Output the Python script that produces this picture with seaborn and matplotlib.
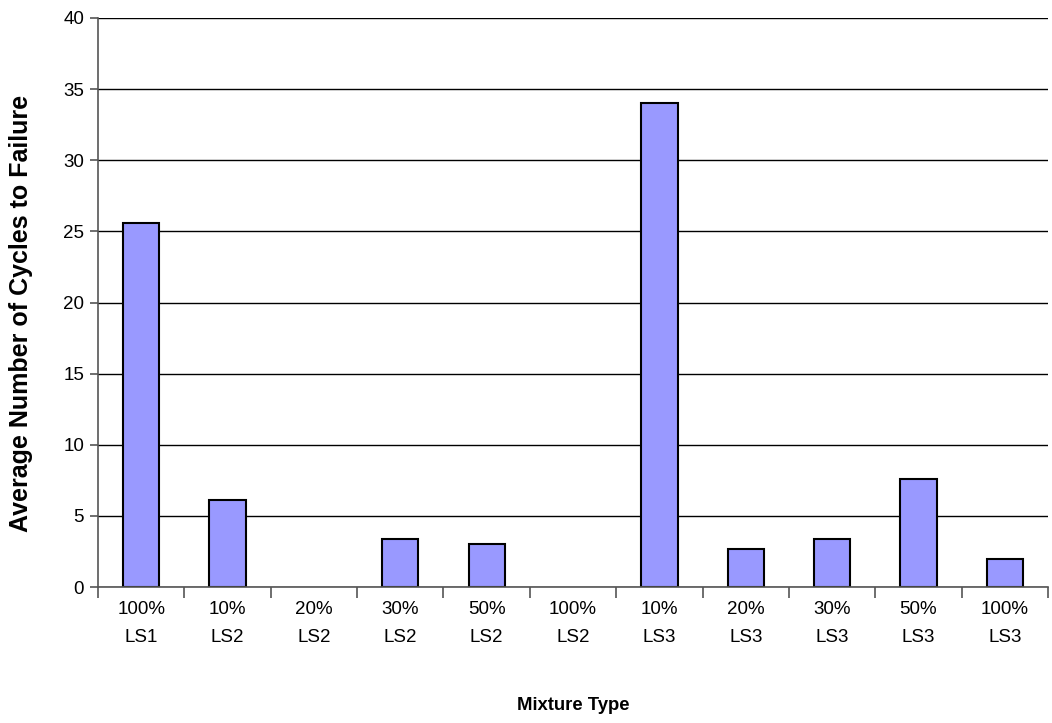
import matplotlib
matplotlib.use("Agg")
import matplotlib.pyplot as plt
import numpy as np
import pandas as pd
import seaborn as sns

categories = ["100%\nLS1", "10%\nLS2", "20%\nLS2", "30%\nLS2", "50%\nLS2", "100%\nLS2",
              "10%\nLS3", "20%\nLS3", "30%\nLS3", "50%\nLS3", "100%\nLS3"]
cycles = [25.6, 6.1, 0, 3.4, 3.0, 0, 34.0, 2.65, 3.36, 7.6, 1.95]
y_ticks = [0, 5, 10, 15, 20, 25, 30, 35, 40]


def main():
    sns.set_theme(style="white")
    plt.rcParams['font.family'] = ['Liberation Sans', 'DejaVu Sans']

    df = pd.DataFrame({"Mixture Type": categories, "Cycles": cycles})

    fig = plt.figure(figsize=(10.52, 7.23), dpi=100)
    ax = fig.add_axes([98 / 1052, 1 - 587 / 723, (1048 - 98) / 1052, (587 - 18) / 723])

    sns.barplot(data=df, x="Mixture Type", y="Cycles", color="#9999FF",
                saturation=1, width=0.42, edgecolor="black", linewidth=1.5, ax=ax)
    # empty categories should not leave a stroke on the axis
    for bar in ax.patches:
        if bar.get_height() == 0:
            bar.set_linewidth(0)

    ax.set_ylim(0, 40)
    ax.set_xlim(-0.5, len(categories) - 0.5)
    ax.set_yticks(y_ticks)
    ax.yaxis.grid(True, color="black", linewidth=1)
    ax.set_axisbelow(True)

    for side in ["top", "right"]:
        ax.spines[side].set_visible(False)
    for side in ["left", "bottom"]:
        ax.spines[side].set_color("#555555")
        ax.spines[side].set_linewidth(1.2)

    # tick marks sit between categories, labels stay centred
    ax.set_xticks(np.arange(len(categories)))
    ax.set_xticklabels(categories, fontsize=13.5, linespacing=1.85)
    ax.set_xticks(np.arange(-0.5, len(categories)), minor=True)
    ax.tick_params(axis="x", which="major", bottom=True, length=0, pad=10, labelcolor="black")
    ax.tick_params(axis="x", which="minor", bottom=True, length=8, width=1.2,
                   color="#555555", direction="out")
    ax.tick_params(axis="y", which="major", left=True, length=6, width=1.2, color="#555555",
                   direction="out", labelsize=13.5, pad=4, labelcolor="black")

    ax.set_xlabel("Mixture Type", fontsize=13.3, fontweight="bold", labelpad=37, color="black")
    ax.set_ylabel("Average Number of Cycles to Failure", fontsize=18, fontweight="bold",
                  color="black")
    ax.yaxis.set_label_coords(-0.068, 0.48)

    fig.savefig("out.png", dpi=100, facecolor="white")


if __name__ == '__main__':
    main()
